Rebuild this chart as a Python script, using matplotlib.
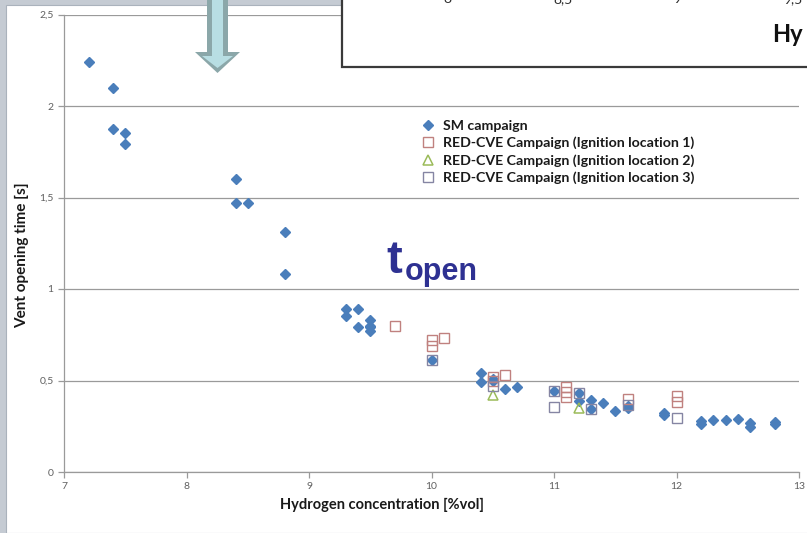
import matplotlib.pyplot as plt
from matplotlib.patches import Polygon, Rectangle

plt.rcParams['font.family'] = ['Lato', 'DejaVu Sans']

# SM campaign
sm_x = [7.2, 7.4, 7.4, 7.5, 7.5, 8.4, 8.4, 8.5, 8.8, 8.8,
        9.3, 9.3, 9.4, 9.4, 9.5, 9.5, 9.5, 9.5, 10.0, 10.4,
        10.4, 10.5, 10.5, 10.6, 10.7, 11.0, 11.2, 11.2, 11.3, 11.3,
        11.4, 11.5, 11.6, 11.6, 11.9, 11.9, 12.2, 12.2, 12.3, 12.4,
        12.5, 12.6, 12.6, 12.8, 12.8]
sm_y = [2.24, 2.10, 1.875, 1.85, 1.79, 1.60, 1.47, 1.47, 1.31, 1.08,
        0.89, 0.85, 0.89, 0.79, 0.83, 0.80, 0.79, 0.77, 0.61, 0.54,
        0.49, 0.51, 0.50, 0.455, 0.465, 0.44, 0.43, 0.39, 0.395, 0.345,
        0.375, 0.335, 0.35, 0.36, 0.31, 0.32, 0.28, 0.26, 0.285, 0.285,
        0.29, 0.27, 0.245, 0.275, 0.26]

# RED-CVE campaign, ignition location 1
loc1_x = [9.7, 10.0, 10.0, 10.1, 10.5, 10.5, 10.6, 11.1, 11.1, 11.1, 11.6, 12.0, 12.0]
loc1_y = [0.80, 0.72, 0.69, 0.73, 0.52, 0.50, 0.53, 0.465, 0.435, 0.41, 0.40, 0.415, 0.38]

# RED-CVE campaign, ignition location 2
loc2_x = [10.5, 11.2]
loc2_y = [0.42, 0.35]

# RED-CVE campaign, ignition location 3
loc3_x = [10.0, 10.5, 11.0, 11.0, 11.2, 11.3, 11.6, 12.0]
loc3_y = [0.61, 0.47, 0.44, 0.355, 0.43, 0.345, 0.365, 0.295]

x_ticks = [7, 8, 9, 10, 11, 12, 13]
y_ticks = [0, 0.5, 1, 1.5, 2, 2.5]
y_tick_labels = ['0', '0,5', '1', '1,5', '2', '2,5']

W, H = 807, 533


def fx(px):
    return px / W


def fy(py):
    return 1 - py / H


fig = plt.figure(figsize=(W / 100, H / 100), dpi=100)
fig.patch.set_facecolor('#c5cbd3')

# slide background panel behind the chart
fig.add_artist(Rectangle((fx(6), 0), 1, fy(5), transform=fig.transFigure,
                         facecolor='white', edgecolor='#aab2bc', lw=0.8, zorder=0))

ax = fig.add_axes([fx(64), fy(472), fx(799) - fx(64), fy(14.5) - fy(472)])
ax.set_facecolor('white')

ax.plot(sm_x, sm_y, 'D', ms=4.6, color='#4a7ebb', mec='#4a7ebb', label='SM campaign', zorder=3)
ax.plot(loc1_x, loc1_y, 's', ms=6.5, mfc='none', mec='#c0817f', mew=1.0,
        label='RED-CVE Campaign (Ignition location 1)', zorder=4)
ax.plot(loc2_x, loc2_y, '^', ms=7.0, mfc='none', mec='#9bbb59', mew=1.1,
        label='RED-CVE Campaign (Ignition location 2)', zorder=4)
ax.plot(loc3_x, loc3_y, 's', ms=6.5, mfc='none', mec='#8585a3', mew=1.0,
        label='RED-CVE Campaign (Ignition location 3)', zorder=4)

ax.set_xlim(7, 13)
ax.set_ylim(0, 2.5)
ax.set_xticks(x_ticks)
ax.set_yticks(y_ticks)
ax.set_yticklabels(y_tick_labels)
ax.grid(axis='y', color='#9a9a9a', lw=0.9)
ax.set_axisbelow(True)
for side in ('top', 'right'):
    ax.spines[side].set_visible(False)
for side in ('left', 'bottom'):
    ax.spines[side].set_color('#9a9a9a')
    ax.spines[side].set_linewidth(0.9)
ax.tick_params(colors='#9a9a9a', labelcolor='#606060', labelsize=7.5, length=4, width=0.9)
ax.tick_params(axis='x', pad=3)

leg = ax.legend(loc='upper left', bbox_to_anchor=(fx(415), fy(113)),
                bbox_transform=fig.transFigure, frameon=False,
                handlelength=0.8, handletextpad=0.7, labelspacing=0.33,
                borderpad=0, prop={'weight': 'bold', 'size': 10.2})
for t in leg.get_texts():
    t.set_color('#1a1a1a')

fig.text(fx(382), fy(505), 'Hydrogen concentration [%vol]', ha='center', va='center',
         fontsize=10.5, fontweight='bold', color='#1a1a1a')
fig.text(fx(22), fy(255), 'Vent opening time [s]', ha='center', va='center',
         rotation=90, fontsize=11, fontweight='bold', color='#1a1a1a')

# t_open annotation
fig.text(fx(386), fy(273), 't', fontsize=34, fontweight='bold', color='#2e3192',
         family=['Liberation Sans', 'DejaVu Sans'], ha='left', va='baseline')
fig.text(fx(405), fy(280), 'open', fontsize=22, fontweight='bold', color='#2e3192',
         family=['Liberation Sans', 'DejaVu Sans'], ha='left', va='baseline')

# downward arrow over the chart
outer = [(207, 0), (228, 0), (228, 52), (240, 52), (217.5, 73), (195, 52), (207, 52)]
inner = [(212, 0), (223, 0), (223, 56), (233, 56), (217.5, 68), (202, 56), (212, 56)]
fig.add_artist(Polygon([(fx(a), fy(b)) for a, b in outer], closed=True,
                       transform=fig.transFigure, facecolor='#8ba7a9', edgecolor='none', zorder=10))
fig.add_artist(Polygon([(fx(a), fy(b)) for a, b in inner], closed=True,
                       transform=fig.transFigure, facecolor='#b8dee3', edgecolor='none', zorder=11))

# overlapping inset chart frame at the top right
fig.add_artist(Rectangle((fx(342), fy(67)), 1, 1, transform=fig.transFigure,
                         facecolor='white', edgecolor='#3a3a3a', lw=1.6, zorder=10))
for xp, lab in [(447, '8'), (563, '8,5'), (677, '9'), (793, '9,5')]:
    fig.text(fx(xp), fy(-1), lab, ha='center', va='center', fontsize=10,
             color='#303030', zorder=12)
fig.text(fx(772), fy(34), 'Hy', ha='left', va='center', fontsize=17,
         fontweight='bold', color='#111111', zorder=12)

fig.savefig('out.png', dpi=100, facecolor=fig.get_facecolor())
